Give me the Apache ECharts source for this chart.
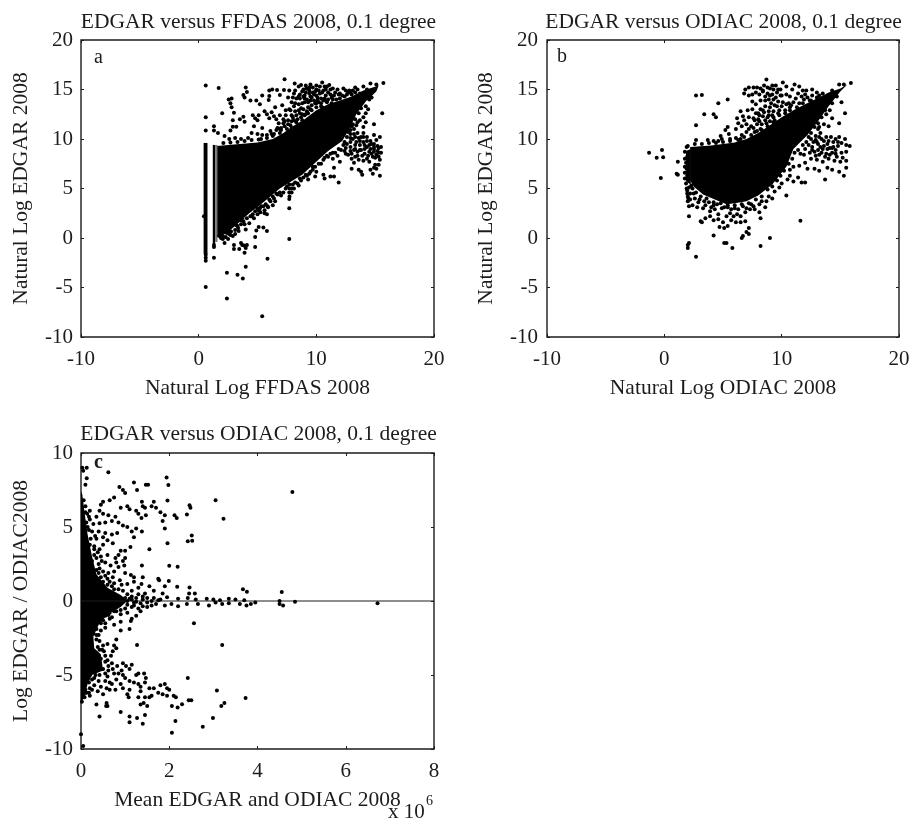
<!DOCTYPE html>
<html><head><meta charset="utf-8">
<style>html,body{margin:0;padding:0;background:#fff}#c{width:915px;height:825px;filter:blur(0.5px)}</style>
<script src="https://cdn.jsdelivr.net/npm/echarts@6/dist/echarts.min.js"></script>
</head><body><div id="c"></div>
<script>
const titles=["EDGAR versus FFDAS 2008, 0.1 degree","EDGAR versus ODIAC 2008, 0.1 degree","EDGAR versus ODIAC 2008, 0.1 degree"];
const xNames=["Natural Log FFDAS 2008","Natural Log ODIAC 2008","Mean EDGAR and ODIAC 2008"];
const yNames=["Natural Log EDGAR 2008","Natural Log EDGAR 2008","Log EDGAR / ODIAC2008"];
// saturated (solid black) parts of each cloud, read as outlines in data units
const coreA=[
 [[1.55,9.3],[3,9.45],[5,9.65],[6.3,10],[7.2,10.6],[8,11.3],[9,12],[10,12.9],[11,13.5],[12,13.9],[13,14.3],[14,14.9],[15.3,15.4],[15.1,14.8],[14.2,13.8],[13.4,12.5],[12.8,11],[12.2,9.8],[11,8.8],[10,7.7],[8.8,6.4],[8,5.8],[6.9,5],[5.4,3.5],[4.3,2.5],[2.9,1],[2,0.2],[1.55,0.1]],
 [[0.42,-1.6],[0.75,-1.6],[0.75,9.6],[0.42,9.6]],
 [[1.2,-0.6],[1.4,-0.6],[1.4,9.4],[1.2,9.4]]
];
const greyStripA=[[[1.4,-0.4],[1.6,-0.4],[1.6,9.4],[1.4,9.4]]];
const coreB=[
 [[2.2,9.2],[4,9.35],[6,9.65],[7,10],[8,10.6],[9,11.4],[10,12.2],[11,12.9],[12,13.5],[13,14.1],[14,14.7],[15,15.1],[15.6,15.5],[15,14.8],[14,13.3],[13.1,11.8],[12.2,10.4],[11,9],[10.4,7.2],[9.2,5.4],[8,4.3],[7,3.7],[6,3.5],[5.3,3.4],[4.3,3.9],[3.3,4.4],[2.5,5.2],[2.2,5.8]],
 [[1.85,5.7],[2.25,5.4],[2.25,9],[1.85,8.8]]
];
const coreC=[
 [[0,7.4],[0.03,7.2],[0.08,6],[0.15,4.5],[0.25,3],[0.35,1.8],[0.6,0.9],[0.9,0.4],[1.05,0.02],[0.9,-0.4],[0.6,-0.9],[0.4,-1.6],[0.28,-2.4],[0.3,-3.2],[0.45,-3.6],[0.5,-4.7],[0.25,-5],[0.15,-5.6],[0.06,-6.6],[0,-6.8]]
];
const pointsA=[[0.6,15.4],[1.7,15.15],[4,15.2],[4.1,14.75],[3.8,14.45],[3.9,14.2],[2.8,14.1],[2.55,14],[2.7,13.6],[2.8,13.2],[2,12.6],[3,12.65],[0.6,12.2],[3.8,12.25],[3.5,12],[2.9,11.9],[3.9,11.75],[2.9,11.25],[3.2,11.25],[2.7,10.85],[1.3,11.3],[1.3,10.85],[1.64,10.6],[0.6,10.85],[4.4,13.9],[4.9,13.9],[5.2,13.5],[5.4,14.4],[6,14.9],[6.25,15],[6.66,14.95],[5.95,13.95],[6,14.35],[6.9,14.45],[7.3,16.03],[7.25,14.95],[7.7,14.9],[8.16,15.6],[8.7,15.45],[9.15,15.1],[10.5,15.7],[11.1,15.45],
[4.6,12.4],[4.8,12.1],[5,11.9],[5.1,12.4],[4.7,11.3],[5.4,11.1],[5.6,12.8],[5.8,12.5],[6,12.1],[6.2,12.7],[6.4,12.3],[6.6,12],[6.5,13.2],[6.9,12.4],[7.1,13.4],[7.4,12.9],[7.2,12],[7.7,13],[7.9,13.7],[7.6,14.2],[8.1,14.6],[8.3,14.1],[8.5,13.5],[8.8,14.8],[9,14.4],[9.2,15.1],[9.4,14.6],[9.5,13.9],[9.7,15.2],[9.9,14.8],[10.1,14.2],[10.3,15.3],[10.5,14.7],[10.8,15],[11.2,14.5],[11.4,15.1],[11.7,14],[12,14.6],[12.3,15.1],[12.7,14.7],[13.1,14.9],[13.5,15],[14,15.3],[14.6,15.6],[15.1,15.5],[15.7,15.65],[9,13.7],[9.3,13.2],[9.6,13.4],[9.9,13.6],[10.2,13.7],[10.6,13.9],[11,14],[11.3,13.6],[8.6,12.6],[8.9,13],[8.2,12.8],[8.4,12],[7.9,11.8],[7.6,11.5],[7,11.1],[6.6,10.9],[6.1,10.8],[5.8,10.4],[5.4,10.4],[5,10.5],[4.5,10.6],[4.2,10.1],[3.6,10],[3.1,10.1],[2.6,10],[2.2,10.3],[6.8,11.6],[9.2,14],[9.6,14.2],[10,14.4],[10.4,14.1],[10.8,14.4],[9.4,15.2],[9.8,14.5],[10.2,14.9],[10.7,15.3],[8.6,14.1],[8.9,14.3],[11.6,14.7],[12.4,14.3],[13,14.5],[13.7,14.6],[14.3,15],
[13.2,11],[13.5,10.6],[13.8,10.2],[14,10.6],[14.3,10.2],[14.6,9.8],[14.9,9.5],[15.2,9.3],[15.5,9.2],[13.1,10],[13.4,9.7],[13.7,9.4],[14,9.7],[14.3,9.2],[14.6,9],[14.9,8.7],[15.2,8.8],[15.5,8.6],[12.6,9.5],[12.9,9.2],[13.2,8.9],[13.5,8.7],[13.8,8.9],[14.1,8.5],[14.4,8.3],[14.7,8.5],[15,8.1],[15.3,8.2],[15.4,7.9],[12.4,8.8],[12.7,8.4],[13,8],[13.3,8.2],[13.6,7.9],[14,7.8],[14.5,7.7],[15,7.4],[15.3,7.4],[13.2,7.6],[13,7],[13.6,6.9],[13.8,6.7],[13.9,6.4],[14.9,7.1],[14.6,6.9],[15.1,7],[15.4,6.3],[14.8,6.5],[12,7.7],[11.8,8.3],[11.4,8],[11,8.2],[10.6,7.9],[11.5,7.1],[10.6,6.4],[10.7,6],[11.2,6.2],[11.5,6.2],[11.9,5.6],[9.7,7.2],[9.5,6.7],[9.1,6.4],[10,6.7],[8.7,5.8],[8.4,5.5],[8.1,5],[7.9,4.6],[15.6,12.6],[14.2,12.6],[14.9,11.5],[14.2,11.7],[12.9,12],[13.5,11.7],[14,11.2],[15.4,10.2],[14.9,10.4],[13.3,10.2],[12.9,10.5],
[7.7,5.4],[7.72,5],[7.7,4.6],[7.72,4.2],[7.7,3.95],[7.7,3],[7.7,-0.1],[7.2,4.6],[6.7,4.4],[6.4,4],[6.1,3.7],[6.3,3.3],[5.9,3.1],[5.6,2.8],[5.2,3],[5.6,2.5],[5.8,2.4],[5.1,1.1],[5.5,1.05],[5.8,0.7],[4.9,0.75],[4.8,-0.9],[4.8,0.1],[4,0.85],[3.4,0.7],[3.1,0.4],[2.9,0.2],[2.7,0.3],[2.5,-0.1],[2.2,-0.5],[2,0.1],[3,-0.7],[3,-1.1],[3.6,-0.5],[3.7,-0.7],[3.85,-0.75],[4,-1],[4.1,-0.7],[3.9,-1.5],[3.45,-1.1],[5.85,-2.1],[4,-2.9],[3.3,-3.7],[2.4,-3.5],[3.75,-4.1],[2.4,-6.1],[5.4,-7.9],[0.6,-4.95],[0.6,-2.3],[0.6,-2],[1.3,-2],[0.6,-1.7],[1.3,-0.9],[1.3,-0.7],[0.45,2.2],
[3.6,1.8],[4.3,1.5],[4.7,2],[5,2.4],[3.3,1.2],[2.1,0.1],[1.75,0.2],[1.9,0],[2.4,0.5],[2.5,0.7]];
const extraA=[[8.5,15.3],[9.1,15.4],[9.5,15.5],[10,15.4],[10.9,15.3],[11.8,15],[12.5,14.9],[13.3,15.2],[8.9,15],[9.4,14.9],[10,15],[10.6,14.9],[11.2,15],[11.9,14.5],[12.9,14.7],[8.2,14.9],[8.6,14.5],[9.1,14.7],[9.7,14.7],[10.3,14.6],[11,14.7],[11.5,14.4],[12.2,14.4],[12.8,14.9],[8,14.2],[8.5,14.3],[9,14.1],[9.5,14.3],[10.1,13.9],[10.7,14.1],[11.3,14.2],[8.2,13.6],[8.8,13.6],[9.3,13.7],[9.8,13.9],[10.4,13.6],[10.9,13.7],[7.8,12.9],[8.1,13.3],[8.7,13.1],[9.2,12.8],[9.5,13],[10,13.2],[10.5,13.2],[7.4,12.4],[7.9,12.4],[8.3,12.4],[8.8,12.5],[9.3,12.6],[7.2,11.6],[7.6,11.9],[8.1,11.9],[8.7,12.2],[6.9,11],[7.3,11.3],[7.8,11.4],[6.4,10.5],[6.9,10.6],[5.1,9.95],[4.5,9.9],[3.9,9.8],[3.3,9.7],[2.7,9.65],[2.1,9.6],[12.9,10.1],[13.2,10.5],[13.6,10.1],[14,10.2],[14.3,9.8],[14.7,9.5],[15.1,9.9],[12.9,9.7],[13.3,9.4],[13.7,9.8],[14.1,9.4],[14.5,9.4],[14.9,9.2],[15.3,9.1],[12.5,9.1],[12.9,8.8],[13.3,9],[13.7,8.9],[14.1,9],[14.5,8.7],[14.9,9],[15.3,8.6],[12.3,9.4],[12.1,8.9],[12.5,8.5],[13,8.5],[13.5,8.3],[13.9,8.3],[14.3,8],[14.8,8.2],[15.1,8.4],[11.6,8.6],[11.9,9],[11.2,8.5],[10.7,8.1],[10.2,7.5],[9.7,6.9],[9.2,6.3],[8.6,6],[8,5.4],[7.4,5],[6.6,4.5],[6,3.9],[5.3,3.2],[4.8,2.7],[4.1,2],[3.6,1.4],[3.1,0.8],[2.6,0.4],[5.1,2.8],[5.7,3.4],[4.5,2.2],[3.8,1.7],
[12.9,10.9],[13.1,11.5],[13.3,12],[13.6,12.6],[13.8,13.1],[14.2,13.3],[14.5,14],[12.6,10.2],[12.4,9.7],[12.7,10.7],[13,11.3],[13.4,11.4],[13.7,11.9],[14,12.2],[14.4,13],[14.7,14.2],[9.1,12.5],[9.6,12.9],[10,13.6],[10.4,13.3],[10.9,13.9],[11.4,14],[12,14.1],[12.6,14.5],[13.3,14.7],[7,10.9],[7.5,11],[7.9,11.1],[8.3,11.7],[8.8,11.9],[6.3,10.3],[5.8,10.1],[5.3,10],[7.3,11.8],[8,12.2],[8.5,12.9],[9,12.4],[6.7,11.1],[6.2,10.5],
[2.6,0.9],[3.2,1.3],[3.7,2],[4.4,2.2],[5,3],[5.5,3.2],[6.3,4.2],[6.9,4.6],[7.5,5.2],[8.2,5.6],[8.9,6.1],[9.4,6.5],[9.9,7.2],[10.4,7.5],[10.9,8.3],[11.4,8.6],[2.3,0.1],[2.05,-0.1],[2.75,0.65],[3.35,1],[3.9,1.4],[4.6,2.4],[5.25,2.6],[5.85,3.2],[6.5,3.7],[7,4.3],[7.9,5],[8.5,5.3],[9.3,5.9],[9.9,6.2]];
const pointsB=[[-1.3,8.6],[-0.65,8.1],[-0.2,8.9],[-0.1,8.15],[-0.3,6.05],[1.15,7.7],[1.05,6.5],[1.15,6.4],[2.7,14.4],[3.2,14.45],[3.4,12.5],[4.2,12.5],[4.4,12.2],[4.6,13.6],[5.4,14],[2.7,11.4],[2,-0.7],[2.1,-0.5],[2,-1],[2.7,-1.9],[5.3,-0.5],[5.1,-0.5],[5.8,-1],[8.2,-0.8],[9,0],[4.2,0.25],[6.6,0],[6.7,0.2],[7.2,0.4],[7,0.6],[11.6,1.75],[10.4,4.3],[9.2,4],[8.2,2],[7.2,1],[6.9,1.7],[6.5,1.6],[6.1,1.6],[5.7,1.8],[5.1,1],[4.7,1.1],[5.4,1.2],[5,1.6],[4.6,1.9],[4.2,1.8],[3.1,1.7],[3.2,1.6],[3.5,2],[3.9,2.2],[2.1,2.2],[2.1,3.2],[2.4,3.3],[2.8,3.1],[3.3,3],[3.5,3.3],[3.9,2.7],[4.3,2.9],[4.6,2.4],[5.3,2.2],[5.6,2.5],[5.9,2.2],[6.2,2.4],[6.5,2.2],[6.9,2.6],[7.3,2.9],[7.7,2.9],[8.1,2.6],[8.6,3.1],[2,4.2],[1.95,4.8],[2.2,4.5],[2.6,4],[3,3.9],[3.8,3.6],[4.2,3.3],[4.9,3],[5.4,3.1],[6,3],[6.7,3.2],[7.4,3.4],[8.3,3.7],[8.9,4.2],[9.4,4.7],[9.8,5.1],[10,5.5],[10.5,5.9],[11,5.7],[10.7,6.3],[11.4,6.1],[11.7,5.6],[12,5.6],[12.2,7],[12.8,7],[13.2,6.8],[13.7,5.9],[13.9,7.1],[14.3,6.9],[14.9,6.7],[15.3,6.3],[15.5,7.1],[15.5,7.8],[15,7.7],[14.5,7.8],[14,8],[13.5,7.7],[13,7.9],[12.5,8],[12,7.6],[11.5,7.3],[11,7.2],[10.7,6.9],
[14.9,10.2],[15.4,10],[15.8,9.3],[15.5,8.7],[15.1,8.6],[15.5,9.4],[15.1,9.6],[14.8,9.3],[14.4,9.7],[14.6,8.9],[14.1,9.1],[14.3,8.6],[13.8,8.5],[13.9,9.5],[13.6,9.3],[13.3,9.2],[13.1,8.9],[13.4,8.6],[12.8,8.7],[12.6,9.2],[13,9.7],[13.4,10],[13.8,10.2],[14.2,10.2],[14.6,10],[12.9,10.3],[13.3,10.6],[13.1,11],[12.7,9.7],[15.2,8.1],[14.7,8.2],[11.9,8.4],[12.4,8.6],
[15.1,13.7],[15.4,12.6],[14.9,11.6],[14,11.3],[14.3,12.1],[13.8,12.5],[14.1,12.9],[13.6,13.4],[14,13.9],[13.2,13.1],[13.5,14.6],[14.3,14.9],[14.9,15.5],[15.3,15.5],[15.9,15.65],[13,14.7],[12.6,15],[12.1,14.9],[12.2,14.2],[11.7,14.3],[11.5,15.3],[11.1,15.5],[11.8,14.9],[11.2,14.1],[11.5,13.6],[10.7,14.3],[10.9,15],[10.4,15.3],[10.1,15.7],[9.9,15],[9.5,15.4],[9.2,15.4],[8.7,16],[9,15.1],[8.5,15.4],[8.2,15.1],[7.9,15.2],[7.6,15.2],[7.2,15.2],[6.9,15],[6.8,14.6],[7.2,14.4],[7.5,14.5],[7.8,14.7],[8.1,14.5],[8.4,14.8],[8.8,14.6],[9.2,14.5],[9.6,14.7],[10,14.4],[10.4,14.5],[7.5,13.8],[7.8,13.5],[8.2,13.9],[8.6,13.9],[8.9,14],[9.3,14],[9.7,13.8],[10.1,13.7],[10.6,13.6],[8.2,13],[8.6,13.3],[9,13.2],[9.4,13.4],[9.8,12.9],[10.3,12.9],[10.7,13.2],[7.1,12.9],[7.5,13],[7.8,12.6],[6.5,12.8],[6.7,12.3],[6.2,12.1],[6.8,11.9],[7.2,12.2],[7.6,12.1],[8,12],[8.4,12.3],[8.8,12.2],[9.2,12.4],[6.3,11.6],[6.6,11.3],[6.1,11],[7,11.5],[7.4,11.3],[7.9,11.5],[8.3,11.5],[8.7,11.6],[5.4,11.2],[5.2,10.9],[5.5,10.5],[4.8,10.3],[4.6,9.8],[3.7,9.9],[2.7,9.9],[7,10.7],[6.6,10.4],[6.1,10.1],[5.6,10],[4.9,10],[4.2,9.8],[8.2,11],[7.7,10.7],
[1.9,9.2],[1.95,8.2],[1.85,7.6],[1.9,7],[1.95,6.3],[1.85,5.5],[1.9,5],[1.95,4.5],[2.2,3.9],[2.5,4.5]];
const extraB=[[8.4,14.9],[8.8,15.2],[9.3,15],[9.7,15],[8.6,14.3],[9,14.4],[9.5,14.2],[9.9,14.4],[9.1,13.6],[9.6,13.3],[10,13.3],[10.4,13.5],[11,13.7],[11.4,14.6],[12,14.5],[12.6,14.4],[12.4,13.9],[13,14.2],[11.9,14],[10.8,13.4],[8.5,12.7],[8,12.6],[8.9,12.8],[9.3,12.8],[7.7,11.9],[8.1,11.8],[8.6,11.9],[9,11.8],[7.2,11],[7.6,11.1],[12.5,10],[12.9,9.9],[13.2,10.2],[13.6,9.8],[14,9.8],[14.4,9.2],[14.8,9.7],[13.1,9.5],[13.5,9],[13.9,9],[14.3,9.1],[12.6,8.9],[12.3,9.4],[12.9,8.3],[13.2,8.4],[13.7,8.2],[14.1,8.4],[14.6,8.5],[12,9],[11.6,8.5],[11.4,8.9],[11.1,8.6],[10.9,8],[10.6,7.5],[10.2,6.8],[9.9,6.3],[9.6,5.8],[9.2,5.2],[8.8,4.9],[8.3,4.2],[7.8,3.9],[7.2,3.5],[6.6,3.4],[6,3.3],[5.4,3.3],[4.8,3.5],[4.2,3.6],[3.6,4],[3.1,4.2],[2.7,4.6],[2.4,5],[2.9,3.6],[3.4,3.7],[4,3.1],[4.5,3.4],[5.1,3.1],[5.7,2.9],[6.3,2.9],[7,3],[7.6,3.2],[8.1,3.4],[8.7,3.7],[2.1,5.1],[2.05,4],[2.3,5.3],[2,9.3],[2.6,9.5],[3.2,9.5],[3.8,9.6],[4.4,9.6],[5,9.7],[5.6,9.8],[6.5,10],[1.75,8.7],[1.75,8],[1.75,7.2],[1.75,6.6],[1.75,6],[2,3.7],
[12.5,10.6],[12.8,11.2],[13.1,11.6],[13.4,12.2],[13.7,12.9],[14.3,13.6],[14.7,14.3],[12.3,10.2],[12.1,9.7],[11.8,9.4],[13.2,11.2],[13.6,11.5],[9.4,11.9],[9.8,12.4],[10.3,12.6],[10.7,12.9],[11.3,13.2],[11.8,13.6],[12.5,13.9],[13.2,14.4],[8.3,10.9],[8.8,11.3],[9.3,11.7],[7.4,10.4],[7.9,10.8],[6.8,10.2],[6.3,9.9],[9.3,12.2],[9.7,12.6],[8.1,12.4],[8.4,12.9],[8.9,12.4]];
const pointsC=[[4.79,7.37],[3.05,6.8],[3.23,5.55],[1.94,8.34],[1.98,7.84],[1.96,6.79],[2.46,6.47],[2.48,6.3],[2.4,5.84],[2.51,4.43],[2.42,4.04],[2.52,4.07],[1.96,3.91],[2,2.38],[2.19,2.31],[1.99,1.35],[2.18,0.97],[2.46,0.92],[3.67,0.8],[3.76,0.63],[4.55,0.6],[2.56,-1.5],[3.2,-2.97],[2.42,-5.2],[3.08,-6.05],[3.73,-6.56],[3.25,-6.9],[3.18,-7.1],[2.99,-7.9],[2.76,-8.5],[2.06,-8.9],[2.14,-8.1],[2.29,-6.97],[2.19,-7.2],[2.06,-7.1],[2.5,-6.7],[2.44,-6.7],
[0.03,9],[0.13,9],[0.05,8.8],[0.62,8.7],[0.13,8.3],[0.1,7.85],[0.87,7.7],[0.95,7.5],[1,7.3],[1.2,8],[1.27,7.5],[1.47,7.85],[1.52,7.85],[0.75,7],[0.65,6.8],[0.5,6.7],[0.45,6.5],[1.38,6.7],[1.65,6.7],[1.4,6.4],[1.45,6.3],[1.6,6.4],[1.7,6.3],[1.25,6.1],[1.1,6.2],[0.9,6.3],[1.05,6.4],[0.42,6.1],[0.2,6.1],[0.1,6],[0.5,5.9],[0.35,5.7],[0.62,5.8],[0.78,5.7],[0.2,5.5],[1.3,5.9],[1.47,5.8],[1.37,5.6],[1.8,6],[1.9,5.8],[1.85,5.4],[2.12,5.8],[2.17,5.6],[0.28,5.2],[0.42,5.25],[0.55,5.3],[0.7,5.4],[0.85,5.3],[0.95,5.1],[1.05,5],[1.15,4.7],[1.25,4.9],[1.38,4.7],[1.2,4.3],[1.9,4.9],[0.15,5],[0.25,4.7],[0.4,4.7],[0.55,4.6],[0.7,4.5],[0.82,4.6],[0.5,4.3],[0.35,4.2],[0.6,4.1],[0.72,3.9],[0.5,3.8],[0.3,3.7],[0.42,3.5],[0.2,3.8],[1.12,3.65],[0.9,3.4],[1.0,3.4],[1.55,3.5],[1.38,2.4],[0.85,3.1],[0.78,2.9],[0.8,2.6],[0.95,2.7],[1,2.9],[0.98,2.4],[0.85,2.3],[0.3,3.1],[0.45,3],[0.6,3.1],[0.25,2.7],[0.4,2.5],[0.55,2.6],[0.67,2.4],[0.35,2.1],[0.5,2],[0.62,1.9],[0.75,2],[0.3,1.7],[0.45,1.6],[0.6,1.5],[1.13,1.75],[1.2,1.6],[1.4,1.6],[1.75,1.5],[1.77,1.4],[1.9,1],[1.37,1.15],[1.2,1.3],[1.05,1.15],[0.92,1.1],[0.75,1.2],[0.6,1.1],[0.55,0.85],[0.75,0.8],[0.95,0.7],[1.15,0.7],[1.3,0.9],[1.55,1],[1.65,0.7],[1.85,0.5],[2.45,0.5],[2.58,0.5],[1.15,0.3],[1.25,0.2],[1.4,0.3],[1.5,0.2],[1.65,0.2],[1.8,0.1],[1.95,0.25],[2.2,0.15],[2.42,0.2],[2.6,0.1],[2.85,0.15],[3,0.1],[3.15,0.05],[3.35,0.15],[3.5,0.1],[3.7,0.05],[4.5,0],[1,0.2],[1.05,0],[1.2,-0.1],[1.35,-0.15],[1.5,-0.1],[1.7,-0.2],[1.9,-0.3],[2.05,-0.2],[2.2,-0.35],[2.4,-0.2],[2.65,-0.2],[2.9,-0.3],[3.05,-0.1],[3.2,-0.2],[3.35,-0.15],[3.6,-0.2],[3.75,-0.3],[3.85,-0.2],[3.95,-0.1],[4.5,-0.2],[4.58,-0.3],[4.85,-0.05],[6.72,-0.15],
[1.15,-0.4],[1.3,-0.5],[1.5,-0.4],[1,-0.5],[0.9,-0.6],[0.75,-0.7],[0.65,-0.8],[1.05,-0.8],[0.9,-0.9],[1.25,-1],[1.15,-1.2],[0.7,-1.1],[0.55,-1],[0.9,-1.4],[0.75,-1.6],[1.13,-1.35],[0.9,-2],[1.1,-1.9],[0.45,-1.5],[0.55,-1.8],[0.35,-1.9],[0.4,-2.3],[0.28,-2.2],[0.42,-2.7],[0.5,-3],[0.6,-2.9],[0.8,-2.6],[0.75,-3],[1.27,-2.97],[0.72,-3.4],[0.8,-3.2],[0.68,-3.7],
[0.45,-3.9],[0.55,-4.1],[0.62,-4.4],[0.5,-4.6],[0.42,-5],[0.55,-4.9],[0.6,-5.1],[0.33,-5],[0.2,-5],[0.25,-5.3],[0.4,-5.4],[0.55,-5.4],[0.65,-5.5],[0.58,-5.9],[0.45,-5.8],[0.3,-5.7],[0.2,-5.9],[0.1,-6],[0.18,-6.2],[0.05,-6.4],[0.1,-6.2],[0.65,-6],[0.78,-6],[0.75,-4.9],[0.85,-4.9],[0.92,-4.7],[0.95,-4.2],[1.02,-4.4],[1.1,-4.6],[1.15,-4.3],[0.95,-5],[1,-5.2],[1.1,-5.4],[1.2,-5.5],[1.3,-5.6],[1.25,-5],[1.3,-4.9],[1.43,-4.9],[1.47,-5.2],[1.45,-5.5],[1.35,-5.8],[1.55,-5.9],[1.65,-5.9],[1.8,-5.7],[1.9,-5.6],[1.95,-5.9],[2,-6],[1.1,-6],[1.05,-6.3],[1.08,-6.5],[1.35,-6.1],[1.3,-6.5],[1.45,-6.5],[1.55,-6.5],[1.6,-6.4],[1.75,-6.2],[1.85,-6.3],[1.95,-6.4],[2.1,-6.4],[2.15,-6.5],[1.42,-6.9],[1.5,-7.1],[1.35,-7],[0.35,-7],[0.42,-7.8],[0.58,-6.9],[0.57,-7.1],[0.6,-7.1],[0.9,-7.5],[1.1,-7.8],[1.1,-8.2],[1.27,-7.9],[1.4,-8.3],[1.45,-7.7],[0,-9],[0.05,-9.8]];
const extraC=[[0.12,5.3],[0.18,4.8],[0.22,4.2],[0.3,3.5],[0.35,2.9],[0.42,2.2],[0.5,1.3],[0.7,1],[0.85,0.8],[1.05,0.45],[1.15,0.1],[1.05,-0.25],[0.8,-0.7],[0.65,-1.2],[0.45,-2],[0.35,-2.6],[0.38,-3.1],[0.52,-3.4],[0.55,-3.7],[0.6,-4],[0.48,-3.3],[0.62,-4.7],[0.3,-5.2],[0.18,-5.5],[0.08,-6.5],[0.12,-6.2],[0.02,-6.8],[0.1,6.4],[0.06,6.8],[0.14,5.9],[0.18,5.7],[0.32,4.4],[0.38,3.3],[0.47,2.7],[0.72,1.6],[0.88,1.4],[1,1.9],[0.35,-4],[0.42,-4.4],[0.3,-4.6],[0.7,-4.2],[0.72,-4.6],[0.82,-4.4],[0.8,-5.3],[0.7,-5.6],[0.9,-5.6],[0.95,-5.9],[0.25,-6],[0.38,-6.1],[0.2,-6.4],[0.5,-6.3],
[1.1,0.15],[1.25,-0.05],[1.4,0.1],[1.6,0],[1.75,0.05],[1.3,0.45],[1.45,0.5],[1.2,-0.3],[1.4,-0.35],[1.6,-0.3],[1.35,-0.7],[0.7,0.5],[0.8,-0.4],[0.45,0.95],[0.45,1.2],[0.4,1.9],[0.55,1.7],[0.65,1.3],[0.62,-0.95],[0.5,-1.3],[0.55,-1.5],[0.38,-1.4],[0.35,-2.3],[0.42,-3.3]];
const pointSets=[pointsA.concat(extraA),pointsB.concat(extraB),pointsC.concat(extraC)];
const coreSets=[coreA,coreB,coreC];
const font="Liberation Serif",ink="#1c1c1c";
const grids=[{left:81,top:40,width:353,height:297},{left:547,top:40,width:352,height:297},{left:81,top:453,width:353,height:296}];
const ranges=[{x:[-10,20,10],y:[-10,20,5]},{x:[-10,20,10],y:[-10,20,5]},{x:[0,8,2],y:[-10,10,5]}];
const yNameGap=[49,50,49],yLabelMargin=[8,9,8];
const xAxis=[],yAxis=[],series=[];
const polygonSeries=(polys,i,fill,z)=>({type:'custom',coordinateSystem:'cartesian2d',xAxisIndex:i*2,yAxisIndex:i*2,silent:true,z,data:polys.map((p,k)=>[k]),
  renderItem:(params,api)=>({type:'polygon',shape:{points:polys[api.value(0)].map(v=>api.coord(v))},style:{fill}})});
grids.forEach((g,i)=>{
 const r=ranges[i];
 const tick={show:true,inside:true,length:3,lineStyle:{color:ink,width:1}};
 const line={show:false,onZero:false};
 const lab={color:ink,fontFamily:font,fontSize:21};
 xAxis.push({type:'value',gridIndex:i,min:r.x[0],max:r.x[1],interval:r.x[2],name:xNames[i],nameLocation:'middle',nameGap:40,nameTextStyle:{color:ink,fontFamily:font,fontSize:21.5},axisLine:line,axisTick:tick,splitLine:{show:false},axisLabel:{...lab,margin:12}});
 xAxis.push({type:'value',gridIndex:i,position:'top',min:r.x[0],max:r.x[1],interval:r.x[2],axisLine:line,axisTick:tick,splitLine:{show:false},axisLabel:{show:false}});
 yAxis.push({type:'value',gridIndex:i,min:r.y[0],max:r.y[1],interval:r.y[2],name:yNames[i],nameLocation:'middle',nameRotate:90,nameGap:yNameGap[i],nameTextStyle:{color:ink,fontFamily:font,fontSize:21.5},axisLine:line,axisTick:tick,splitLine:{show:false},axisLabel:{...lab,margin:yLabelMargin[i]}});
 yAxis.push({type:'value',gridIndex:i,position:'right',min:r.y[0],max:r.y[1],interval:r.y[2],axisLine:line,axisTick:tick,splitLine:{show:false},axisLabel:{show:false}});
 series.push(polygonSeries(coreSets[i],i,'#000',2));
 series.push({type:'scatter',xAxisIndex:i*2,yAxisIndex:i*2,data:pointSets[i],symbol:'circle',symbolSize:4,itemStyle:{color:'#000',opacity:1},silent:true,z:3});
});
series.push(polygonSeries(greyStripA,0,'#777',2));
series.push({type:'line',xAxisIndex:4,yAxisIndex:4,data:[[0,0],[8,0]],symbol:'none',lineStyle:{color:ink,width:1.2},silent:true,z:3});
const chart=echarts.init(document.getElementById('c'),null,{renderer:'canvas'});
chart.setOption({animation:false,backgroundColor:'#fff',
 title:[[253.5,6],[718.5,6],[253.5,418]].map((p,i)=>({text:titles[i],left:p[0],top:p[1],textAlign:'center',textStyle:{color:ink,fontFamily:font,fontSize:21.5,fontWeight:'normal'}})),
 grid:grids.map(g=>({...g,show:true,borderColor:ink,borderWidth:1.4,backgroundColor:'transparent'})),
 xAxis,yAxis,series,
 graphic:[
  {type:'text',left:94,top:48,style:{text:'a',fill:ink,font:'20px "Liberation Serif"'}},
  {type:'text',left:557,top:47,style:{text:'b',fill:ink,font:'20px "Liberation Serif"'}},
  {type:'text',left:94,top:453,z:10,style:{text:'c',fill:ink,font:'bold 20px "Liberation Serif"'}},
  {type:'text',left:388,top:802,style:{text:'x 10',fill:ink,font:'21px "Liberation Serif"'}},
  {type:'text',left:426,top:794,style:{text:'6',fill:ink,font:'14px "Liberation Serif"'}}
 ]});
</script></body></html>
